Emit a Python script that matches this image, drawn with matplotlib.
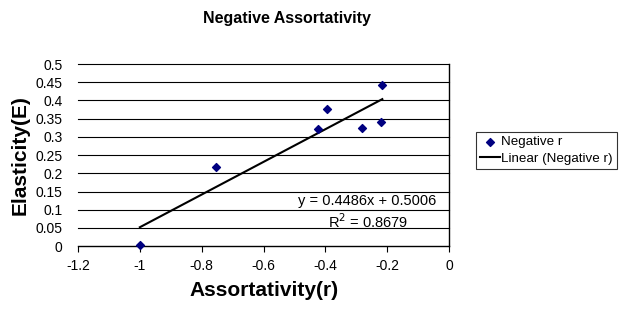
import matplotlib.pyplot as plt
import numpy as np

plt.rcParams["font.family"] = ["Liberation Sans", "DejaVu Sans"]

# data
assort_r = [-1.0, -0.753, -0.425, -0.395, -0.281, -0.22, -0.216]
elastic_e = [0.003, 0.218, 0.322, 0.377, 0.325, 0.340, 0.443]
slope, intercept = 0.4486, 0.5006
x_ticks = [-1.2, -1.0, -0.8, -0.6, -0.4, -0.2, 0.0]
x_tick_labels = ["-1.2", "-1", "-0.8", "-0.6", "-0.4", "-0.2", "0"]
y_ticks = [0, 0.05, 0.1, 0.15, 0.2, 0.25, 0.3, 0.35, 0.4, 0.45, 0.5]
y_tick_labels = ["0", "0.05", "0.1", "0.15", "0.2", "0.25", "0.3", "0.35", "0.4", "0.45", "0.5"]

fig = plt.figure(figsize=(6.29, 3.14), dpi=100)
ax = fig.add_axes([0.124, 0.216, 0.590, 0.580])

for yv in y_ticks[1:]:
    ax.axhline(yv, color="black", lw=0.8, zorder=1, clip_on=False)

ax.scatter(assort_r, elastic_e, marker="D", s=16, color="#000080", zorder=3,
           label="Negative r", clip_on=False)
x_fit = np.array([min(assort_r), max(assort_r)])
ax.plot(x_fit, slope * x_fit + intercept, color="black", lw=1.5, zorder=2,
        label="Linear (Negative r)")

ax.set_xlim(-1.2, 0)
ax.set_ylim(0, 0.5)
ax.set_xticks(x_ticks)
ax.set_xticklabels(x_tick_labels, fontsize=10)
ax.set_yticks(y_ticks)
ax.set_yticklabels(y_tick_labels, fontsize=10)
ax.tick_params(axis="y", length=0, pad=11)
ax.tick_params(axis="x", direction="out", length=4, width=0.8, pad=5)

ax.spines["left"].set_visible(False)
ax.spines["top"].set_visible(False)
ax.spines["right"].set_linewidth(1.0)
ax.spines["bottom"].set_linewidth(1.0)

ax.text(-0.041, 0.123, "y = 0.4486x + 0.5006", ha="right", va="center", fontsize=10.5)
ax.text(-0.263, 0.068, "R$^2$ = 0.8679", ha="center", va="center", fontsize=10.5)

ax.set_xlabel("Assortativity(r)", fontsize=15, fontweight="bold", labelpad=6)
ax.set_ylabel("Elasticity(E)", fontsize=15, fontweight="bold", labelpad=4)

fig.text(287 / 629, 1 - 18 / 314, "Negative Assortativity", ha="center", va="center",
         fontsize=11.5, fontweight="bold")

leg = fig.legend(loc="upper left", bbox_to_anchor=(476 / 629, 1 - 132 / 314),
                 fontsize=9.6, frameon=True, fancybox=False, edgecolor="black",
                 borderpad=0.3, handlelength=1.5, handletextpad=0.1,
                 labelspacing=0.3, borderaxespad=0)
leg.get_frame().set_linewidth(0.8)

fig.savefig("out.png", dpi=100)
